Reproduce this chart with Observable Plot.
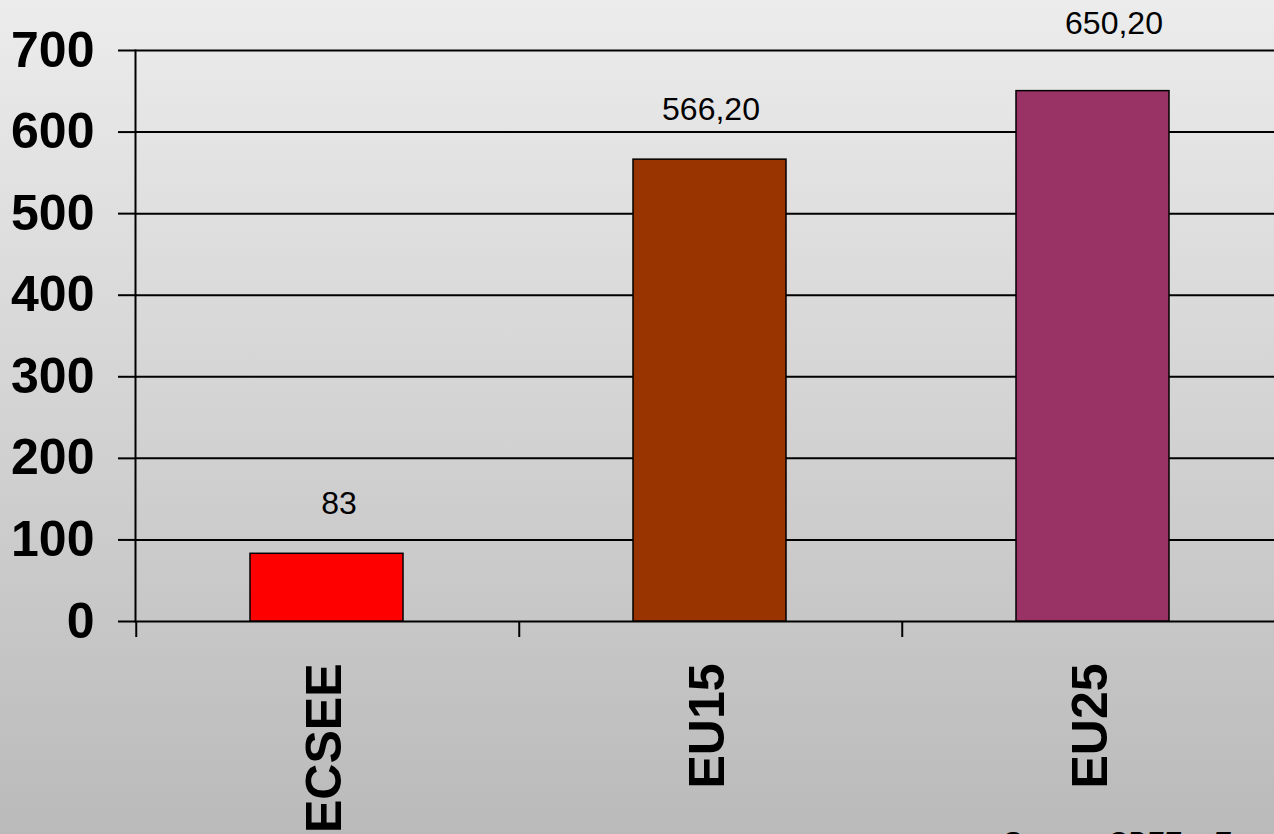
<!DOCTYPE html>
<html>
<head>
<meta charset="utf-8">
<script src="https://cdn.jsdelivr.net/npm/d3@7"></script>
<script src="https://cdn.jsdelivr.net/npm/@observablehq/plot@0.6"></script>
<style>
  html, body { margin: 0; padding: 0; width: 1274px; height: 834px; overflow: hidden; }
  body { background: linear-gradient(to bottom, #ececec 0%, #bababa 100%); position: relative;
         font-family: "Liberation Sans", Arial, sans-serif; }
  #chart { position: absolute; left: 0; top: 0; }
  #source { position: absolute; left: 1002px; top: 828px; font-size: 28px; font-style: italic;
            color: #000; white-space: nowrap; line-height: 1; }
</style>
</head>
<body>
<div id="chart"></div>
<div id="source">Source: CBFE – Eurostat</div>
<script>
const categories = ["ECSEE", "EU15", "EU25"];
const values = [83, 566.2, 650.2];
const valueLabels = ["83", "566,20", "650,20"];
const colors = ["#ff0000", "#993300", "#993366"];
const yTicks = [0, 100, 200, 300, 400, 500, 600, 700];

const data = categories.map((c, i) => ({cat: c, value: values[i], label: valueLabels[i], color: colors[i]}));

const W = 1274, H = 834;
const xRange = [134, 1284.5];
const padIn = 0.6, padOut = 0.3;
const step = (xRange[1] - xRange[0]) / (categories.length - padIn + 2 * padOut);

const labelStyle = {x: "cat", y: "value", text: "label", fontSize: 32, fill: "#000", lineAnchor: "middle"};

const chart = Plot.plot({
  width: W,
  height: H,
  marginLeft: 135,
  marginRight: 0,
  marginTop: 50,
  marginBottom: 213,
  style: {background: "transparent", fontFamily: "'Liberation Sans', Arial, sans-serif", color: "#000", overflow: "visible"},
  x: {domain: categories, range: xRange, paddingInner: padIn, paddingOuter: padOut, label: null},
  y: {domain: [0, 700], label: null},
  marks: [
    Plot.ruleY(yTicks, {stroke: "#000", strokeWidth: 2}),
    Plot.frame({anchor: "left", stroke: "#000", strokeWidth: 2}),
    Plot.barY(data, {x: "cat", y: "value", fill: "color", stroke: "#000", strokeWidth: 1.5}),
    Plot.text(data.filter((d, i) => i === 0), {...labelStyle, dx: 12, dy: -50}),
    Plot.text(data.filter((d, i) => i === 1), {...labelStyle, dx: 1, dy: -50}),
    Plot.text(data.filter((d, i) => i === 2), {...labelStyle, dx: 21, dy: -67}),
    Plot.axisY({ticks: yTicks, tickSize: 17, tickPadding: 24, fontSize: 50, fontWeight: "bold",
                tickFormat: d => String(d), stroke: "#000", strokeWidth: 2, label: null}),
    Plot.axisX({ticks: categories, tickSize: 16, tickFormat: () => "", dx: -step / 2 + 1,
                stroke: "#000", strokeWidth: 2, label: null}),
    Plot.text(categories, {x: d => d, frameAnchor: "bottom", rotate: -90, textAnchor: "end",
                lineAnchor: "middle", dx: -2, dy: 42, fontSize: 50, fontWeight: "bold", fill: "#000"})
  ]
});
document.getElementById("chart").appendChild(chart);
</script>
</body>
</html>
